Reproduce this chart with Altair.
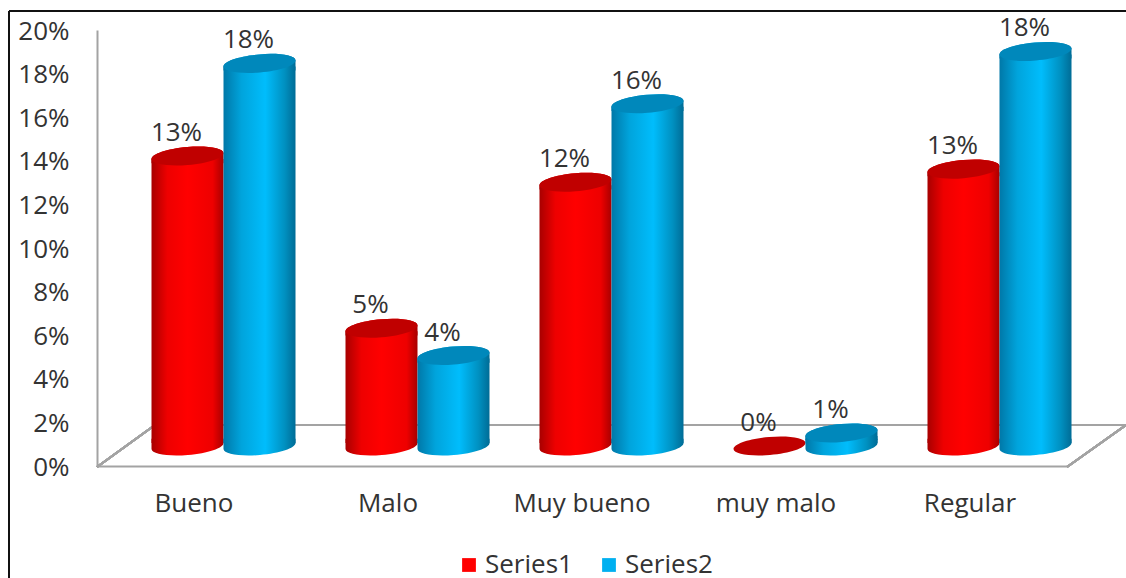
import altair as alt
import pandas as pd

categories = ["Bueno", "Malo", "Muy bueno", "muy malo", "Regular"]
series1 = [0.133, 0.054, 0.121, 0.0, 0.127]
series2 = [0.1755, 0.0415, 0.157, 0.006, 0.181]

FONT = "Open Sans"
FONT_SIZE = 26
TEXT = "#333333"
GRID = "#a3a3a3"

# Cylinder pieces, all spanning -1..1 horizontally and tilted a few degrees.
ELLIPSE = "M-1,0.085 A1,0.25 -5 0 1 1,-0.085 A1,0.25 -5 0 1 -1,0.085 Z"
TOP_COLLAR = "M-1,0.085 A1,0.25 -5 0 1 1,-0.085 L1,0.2 L-1,0.2 Z"
BOTTOM_COLLAR = "M1,-0.085 A1,0.25 -5 0 1 -1,0.085 L-1,-0.2 L1,-0.2 Z"
CYL_W = 72
LIFT = -20  # columns stand in the middle of the floor's depth


def shade(stops):
    return alt.LinearGradient(
        gradient="linear", x1=0, x2=1, y1=0, y2=0,
        stops=[alt.GradientStop(offset=o, color=c) for o, c in stops],
    )


red_body = shade([(0, "#a80000"), (0.22, "#ee0000"), (0.5, "#ff0000"), (0.85, "#ee0000"), (1, "#a80000")])
blue_body = shade([(0, "#0078a8"), (0.25, "#00a4dc"), (0.58, "#00bdfc"), (0.85, "#0090c0"), (1, "#006c96")])

df = pd.concat([
    pd.DataFrame({"category": categories, "value": series1, "series": "Series1"}),
    pd.DataFrame({"category": categories, "value": series2, "series": "Series2"}),
])

x_enc = alt.X(
    "category:N", sort=categories, title=None,
    scale=alt.Scale(type="band", range=[97, 1067], padding=0),
    axis=alt.Axis(
        orient="bottom", offset=-112, labelAngle=0, ticks=False, labelPadding=24,
        labelFont=FONT, labelFontSize=FONT_SIZE, labelColor=TEXT,
        domainColor=GRID, domainWidth=2, grid=False,
    ),
)
y_enc = alt.Y(
    "value:Q", title=None,
    scale=alt.Scale(domain=[0, 0.2], range=[466, 30], nice=False),
    axis=alt.Axis(
        values=[i / 100 for i in range(0, 21, 2)], format=".0%", ticks=False, grid=False,
        offset=-97, labelPadding=28, labelOffset=1, labelFont=FONT, labelFontSize=FONT_SIZE,
        labelColor=TEXT, domainColor=GRID, domainWidth=2,
    ),
)

base = alt.Chart(df)


def rule(x, x2, y, y2, color=GRID, width=2):
    return alt.Chart(df).mark_rule(color=color, strokeWidth=width).encode(
        x=alt.value(x), x2=alt.value(x2), y=alt.value(y), y2=alt.value(y2)
    )


def cylinders(name, body, cap, dx):
    rows = base.transform_filter(alt.datum.series == name)
    standing = rows.transform_filter(alt.datum.value > 0)
    piece = dict(filled=True, opacity=1, strokeWidth=0, size=CYL_W ** 2, xOffset=dx)
    bottom = standing.mark_point(shape=BOTTOM_COLLAR, fill=body, yOffset=LIFT, **piece).encode(
        x=x_enc, y=alt.datum(0)
    )
    column = standing.mark_bar(
        size=CYL_W, fill=body, xOffset=dx, yOffset=LIFT + 3, y2Offset=LIFT - 3,
    ).encode(x=x_enc, y=y_enc, y2=alt.datum(0))
    collar = standing.mark_point(shape=TOP_COLLAR, fill=body, yOffset=LIFT, **piece).encode(
        x=x_enc, y=y_enc
    )
    top = rows.mark_point(shape=ELLIPSE, fill=cap, yOffset=LIFT, **piece).encode(
        x=x_enc, y=y_enc
    )
    label = rows.mark_text(
        font=FONT, fontSize=FONT_SIZE, color=TEXT, baseline="middle",
        xOffset=dx - 11, yOffset=LIFT - 23,
    ).encode(x=x_enc, y=y_enc, text=alt.Text("value:Q", format=".0%"))
    return [bottom, column, collar, top, label]


legend_layer = base.mark_square(filled=True).encode(
    x=x_enc,
    y=alt.datum(0),
    size=alt.value(0),
    color=alt.Color(
        "series:N",
        scale=alt.Scale(domain=["Series1", "Series2"], range=["#ff0000", "#00b0f0"]),
        legend=alt.Legend(
            title=None, orient="none", legendX=456, legendY=552, direction="horizontal",
            symbolType="square", symbolSize=190, symbolOpacity=1, symbolStrokeWidth=0,
            labelFont=FONT, labelFontSize=FONT_SIZE, labelColor=TEXT, columnPadding=23,
            labelOffset=3, labelLimit=200,
        ),
    ),
)

chart = alt.layer(
    rule(152, 1126, 425, 425),
    rule(97, 155, 467, 425),
    rule(1067, 1126, 467, 425),
    legend_layer,
    *cylinders("Series1", red_body, "#c00000", -6.5),
    *cylinders("Series2", blue_body, "#0088bb", 65.5),
    rule(9, 9, 11, 578, "#111111", 2),
    rule(9, 1126, 11, 11, "#111111", 2),
).properties(
    width=1126, height=578, padding=0, autosize=alt.AutoSizeParams(type="none"),
    background="white",
).configure_view(stroke=None)

chart.save("out.html", embed_options={"renderer": "svg", "actions": False})
